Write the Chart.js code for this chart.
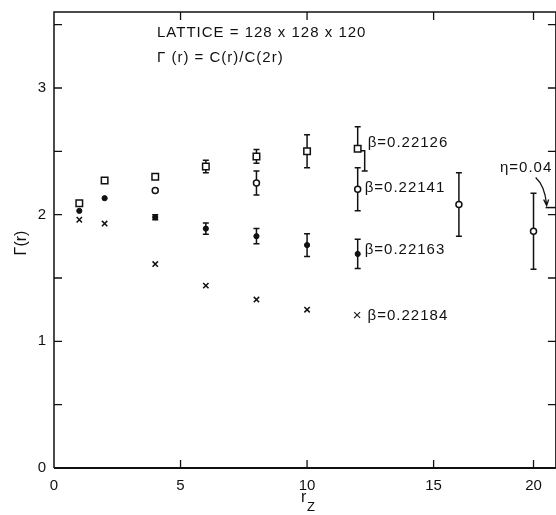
<!DOCTYPE html>
<html><head><meta charset="utf-8">
<script src="https://cdn.jsdelivr.net/npm/chart.js@4.4.1/dist/chart.umd.min.js"></script>
<style>
html,body{margin:0;padding:0;background:#fff;overflow:hidden;width:556px;height:515px}
#wrap{width:562px;height:515px;position:relative}
</style>
</head><body><div id="wrap"><canvas id="c" width="562" height="515"></canvas></div>
<script>
// ---- data ----
const xTicks = [0, 5, 10, 15, 20];
const yTicks = [0, 1, 2, 3];
const yMinorTicks = [0.5, 1.5, 2.5, 3.5];
const seriesNames = ['β=0.22126', 'β=0.22141', 'β=0.22163', 'β=0.22184'];
const annotLines = ['LATTICE = 128 x 128 x 120', 'Γ (r) = C(r)/C(2r)'];
const xTitle = ['r', 'Z'];
const yTitle = 'Γ(r)';

const rSq = [1, 2, 4, 6, 8, 10, 12];
const gSq = [2.09, 2.27, 2.30, 2.38, 2.46, 2.50, 2.52];
const eSq = [0, 0, 0, 0.05, 0.055, 0.13, 0.175];

const rOc = [4, 8, 12, 16, 20];
const gOc = [2.19, 2.25, 2.20, 2.08, 1.87];
const eOc = [0, 0.095, 0.17, 0.25, 0.30];

const rFc = [1, 2, 4, 6, 8, 10, 12];
const gFc = [2.03, 2.13, 1.98, 1.89, 1.83, 1.76, 1.69];
const eFc = [0, 0, 0.02, 0.045, 0.06, 0.09, 0.115];

const rX = [1, 2, 4, 6, 8, 10];
const gX = [1.96, 1.93, 1.61, 1.44, 1.33, 1.25];

const etaLabel = 'η=0.04';
const etaValue = 2.056;
const etaRange = [20.65, 21.2];

// ---- axis with the reference's compressed right end ----
const KNEE = 16, SQUEEZE = 0.737;
const warp = v => v <= KNEE ? v : KNEE + (v - KNEE) * SQUEEZE;
const unwarp = w => w <= KNEE ? w : KNEE + (w - KNEE) / SQUEEZE;
class WarpScale extends Chart.LinearScale {
  getPixelForValue(v) {
    if (v === null || v === undefined) return NaN;
    const a = warp(this.min), b = warp(this.max);
    return this.getPixelForDecimal((warp(v) - a) / (b - a));
  }
  getValueForPixel(p) {
    const a = warp(this.min), b = warp(this.max);
    return unwarp(a + this.getDecimalForPixel(p) * (b - a));
  }
}
WarpScale.id = 'warp';
WarpScale.defaults = Chart.LinearScale.defaults;
Chart.register(WarpScale);

const FONT = '"Liberation Sans", Arial, sans-serif';
const INK = '#111';

const pts = (xs, ys) => xs.map((x, i) => ({x: x, y: ys[i]}));

const errPlugin = {
  id: 'err',
  beforeDatasetsDraw(chart) {
    const ctx = chart.ctx, xs = chart.scales.x, ys = chart.scales.y;
    ctx.save();
    ctx.strokeStyle = INK; ctx.lineWidth = 1.5;
    chart.data.datasets.forEach(ds => {
      if (!ds.errors) return;
      ds.data.forEach((p, j) => {
        const e = ds.errors[j]; if (!e) return;
        const px = xs.getPixelForValue(p.x), py = ys.getPixelForValue(p.y);
        const top = ys.getPixelForValue(p.y + e), bot = ys.getPixelForValue(p.y - e);
        const off = (ds.lowerOffset && ds.lowerOffset[j]) || 0;
        ctx.beginPath();
        ctx.moveTo(px, top); ctx.lineTo(px, py);
        ctx.moveTo(px - 3, top); ctx.lineTo(px + 3, top);
        if (off) {
          ctx.moveTo(px + 3, py + 2); ctx.lineTo(px + off, py + 2); ctx.lineTo(px + off, bot);
          ctx.moveTo(px + off - 3, bot); ctx.lineTo(px + off + 3, bot);
        } else {
          ctx.moveTo(px, py); ctx.lineTo(px, bot);
          ctx.moveTo(px - 3, bot); ctx.lineTo(px + 3, bot);
        }
        ctx.stroke();
      });
    });
    ctx.restore();
  }
};

const framePlugin = {
  id: 'frame',
  afterDraw(chart) {
    const {ctx, chartArea: a} = chart;
    const xs = chart.scales.x, ys = chart.scales.y;
    ctx.save();
    ctx.strokeStyle = INK;
    ctx.lineWidth = 1.5;
    ctx.beginPath();
    ctx.moveTo(a.left, a.bottom); ctx.lineTo(a.left, a.top);
    ctx.lineTo(a.right, a.top); ctx.lineTo(a.right, a.bottom);
    ctx.stroke();
    ctx.lineWidth = 2.2;
    ctx.beginPath(); ctx.moveTo(a.left, a.bottom); ctx.lineTo(a.right, a.bottom); ctx.stroke();
    ctx.lineWidth = 1.3;
    ctx.beginPath();
    xs.ticks.forEach(t => {
      const px = xs.getPixelForValue(t.value);
      if (t.value === 0) return;
      ctx.moveTo(px, a.bottom); ctx.lineTo(px, a.bottom - 8);
      ctx.moveTo(px, a.top); ctx.lineTo(px, a.top + 8);
    });
    ys.ticks.forEach(t => {
      const py = ys.getPixelForValue(t.value);
      if (t.value === 0) return;
      ctx.moveTo(a.left, py); ctx.lineTo(a.left + 8, py);
      ctx.moveTo(a.right, py); ctx.lineTo(a.right - 8, py);
    });
    ctx.stroke();

    // texts
    ctx.fillStyle = INK;
    ctx.textBaseline = 'middle';
    ctx.textAlign = 'left';
    ctx.font = '15px ' + FONT;
    ctx.letterSpacing = '1px';
    ctx.fillText(annotLines[0], 157, 33);
    ctx.fillText(annotLines[1], 157, 58);

    const lab = (txt, xv, yv, dx) => ctx.fillText(txt, xs.getPixelForValue(xv) + dx, ys.getPixelForValue(yv));
    lab(seriesNames[0], 12, 2.565, 10);
    lab(seriesNames[1], 12, 2.21, 7);
    lab(seriesNames[2], 12, 1.72, 7);
    lab('× ' + seriesNames[3], 12, 1.20, -5);

    // eta annotation
    ctx.fillText(etaLabel, 500, 168);
    const ex = xs.getPixelForValue(etaRange[0]), ey = ys.getPixelForValue(etaValue);
    ctx.lineWidth = 1.3;
    ctx.beginPath();
    ctx.moveTo(ex - 10, ey - 30);
    ctx.quadraticCurveTo(ex - 1, ey - 22, ex + 1, ey - 3);
    ctx.moveTo(ex - 2, ey - 8); ctx.lineTo(ex + 1, ey - 2); ctx.lineTo(ex + 3, ey - 8);
    ctx.stroke();

    // axis titles
    ctx.letterSpacing = '0px';
    ctx.font = '16px ' + FONT;
    ctx.fillText(xTitle[0], 301, 498);
    ctx.font = '13px ' + FONT;
    ctx.fillText(xTitle[1], 307, 507);
    ctx.save();
    ctx.translate(22, 243);
    ctx.rotate(-Math.PI / 2);
    ctx.textAlign = 'center';
    ctx.font = '16px ' + FONT;
    ctx.fillText(yTitle, 0, 0);
    ctx.restore();
    ctx.restore();
  }
};

new Chart(document.getElementById('c'), {
  type: 'scatter',
  data: {
    datasets: [
      {label: seriesNames[0], data: pts(rSq, gSq), errors: eSq, lowerOffset: [0, 0, 0, 0, 0, 0, 7],
       pointStyle: 'rect', pointRadius: 4.6, borderColor: INK, backgroundColor: '#fff', borderWidth: 1.5},
      {label: seriesNames[1], data: pts(rOc, gOc), errors: eOc,
       pointStyle: 'circle', pointRadius: 3, borderColor: INK, backgroundColor: '#fff', borderWidth: 1.5},
      {label: seriesNames[2], data: pts(rFc, gFc), errors: eFc,
       pointStyle: 'circle', pointRadius: 2.6, borderColor: INK, backgroundColor: INK, borderWidth: 1},
      {label: seriesNames[3], data: pts(rX, gX),
       pointStyle: 'crossRot', pointRadius: 3.8, borderColor: INK, backgroundColor: INK, borderWidth: 1.5},
      {type: 'line', label: etaLabel, data: etaRange.map(x => ({x: x, y: etaValue})),
       borderColor: INK, borderWidth: 1.5, pointRadius: 0, showLine: true}
    ]
  },
  options: {
    responsive: false, animation: false, devicePixelRatio: 1,
    layout: {padding: {top: 12, right: 3, left: 0, bottom: 0}},
    plugins: {legend: {display: false}, tooltip: {enabled: false}},
    scales: {
      x: {
        type: 'warp', min: 0, max: 21.2,
        afterFit: s => { s.height = 47; },
        afterBuildTicks: s => { s.ticks = xTicks.map(v => ({value: v})); },
        ticks: {padding: 1, maxRotation: 0, autoSkip: false, color: INK,
                font: {family: FONT, size: 15}, callback: v => String(v)},
        grid: {display: false}, border: {display: false}
      },
      y: {
        min: 0, max: 3.6,
        afterFit: s => { s.width = 54; },
        afterBuildTicks: s => { s.ticks = yTicks.concat(yMinorTicks).sort((p, q) => p - q).map(v => ({value: v})); },
        ticks: {padding: 0, autoSkip: false, color: INK,
                font: {family: FONT, size: 15}, callback: v => yTicks.includes(v) ? String(v) : ''},
        grid: {display: false}, border: {display: false}
      }
    }
  },
  plugins: [errPlugin, framePlugin]
});
</script>
</body></html>
